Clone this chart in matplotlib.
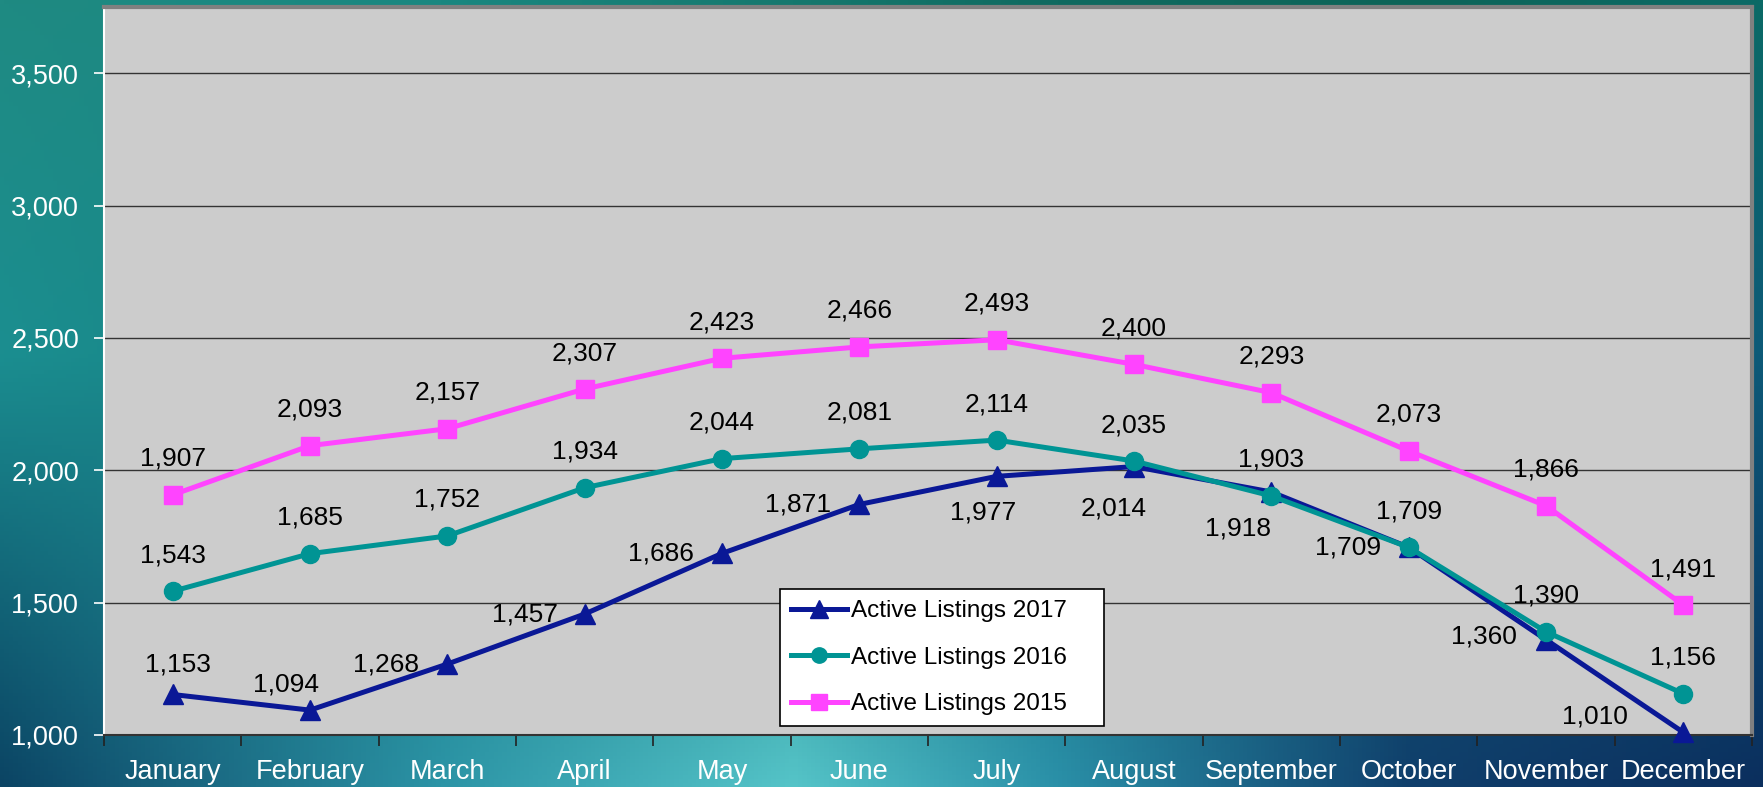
import numpy as np
import matplotlib
matplotlib.use("Agg")
import matplotlib.pyplot as plt
from matplotlib.colors import to_rgb
from matplotlib.ticker import FuncFormatter, FixedLocator

plt.rcParams['font.family'] = ['Liberation Sans', 'DejaVu Sans']

months = ["January", "February", "March", "April", "May", "June", "July",
          "August", "September", "October", "November", "December"]
listings_2017 = [1153, 1094, 1268, 1457, 1686, 1871, 1977, 2014, 1918, 1709, 1360, 1010]
listings_2016 = [1543, 1685, 1752, 1934, 2044, 2081, 2114, 2035, 1903, 1709, 1390, 1156]
listings_2015 = [1907, 2093, 2157, 2307, 2423, 2466, 2493, 2400, 2293, 2073, 1866, 1491]

# label offsets in pixels (dx, dy with y pointing down like the picture)
off_2017 = [(5, -30), (-24, -26), (-61, 0), (-60, 0), (-61, 0), (-61, 0),
            (-14, 36), (-20, 42), (-33, 37), (-61, 0), (-62, -3), (-88, -16)]
off_above = [(0, -36)] * 12

fig = plt.figure(figsize=(17.63, 7.87), dpi=100)

# background gradient behind the chart
bg = fig.add_axes([0, 0, 1, 1])
bg.axis("off")
xs = [0, 0.25, 0.45, 0.6, 0.8, 1.0]
rows = {
    0.0: ["#1f8a82", "#1a8780", "#15786e", "#106a60", "#0d6458", "#0b6a66"],
    0.45: ["#1b8e90", "#168080", "#127072", "#106470", "#0e5c6c", "#0e5a78"],
    1.0: ["#0b4464", "#2c94a6", "#55c4c8", "#2a90a8", "#103f6c", "#0b2f5e"],
}
W, H = 400, 200
gx = np.linspace(0, 1, W)
row_imgs = []
row_keys = sorted(rows)
for k in row_keys:
    cols = np.array([to_rgb(c) for c in rows[k]])
    row_imgs.append(np.stack([np.interp(gx, xs, cols[:, i]) for i in range(3)], axis=-1))
row_imgs = np.array(row_imgs)
gy = np.linspace(0, 1, H)
img = np.zeros((H, W, 3))
for i in range(3):
    for j in range(W):
        img[:, j, i] = np.interp(gy, row_keys, row_imgs[:, j, i])
bg.imshow(img, aspect="auto", extent=[0, 1, 0, 1], origin="upper")
bg.set_xlim(0, 1)
bg.set_ylim(0, 1)

ax = fig.add_axes([104 / 1763, 1 - 735 / 787, 1648 / 1763, 728 / 787])
ax.set_facecolor("#cccccc")

x = np.arange(len(months))
series = [
    (listings_2017, "Active Listings 2017", "#0a1896", "^", 15, off_2017),
    (listings_2016, "Active Listings 2016", "#009494", "o", 13, off_above),
    (listings_2015, "Active Listings 2015", "#ff44ff", "s", 13, off_above),
]
for vals, lab, col, mk, ms, offs in series:
    ax.plot(x, vals, color=col, lw=3.6, marker=mk, markersize=ms, label=lab, zorder=3, clip_on=False)
    for xi, v, (dx, dy) in zip(x, vals, offs):
        ax.annotate(f"{v:,}", (xi, v), xytext=(dx, -dy), textcoords="offset pixels",
                    ha="center", va="center", fontsize=19, color="black", zorder=4)

ax.set_xlim(-0.5, 11.5)
ax.set_ylim(1000, 3750)
ax.set_yticks(np.arange(1000, 3501, 500))
ax.yaxis.set_major_formatter(FuncFormatter(lambda v, _: f"{int(v):,}"))
ax.grid(axis="y", color="#333333", lw=1.0, zorder=1)
ax.set_axisbelow(True)

ax.set_xticks(x)
ax.set_xticklabels(months)
ax.xaxis.set_minor_locator(FixedLocator(np.arange(-0.5, 12, 1)))
ax.tick_params(axis="x", which="major", length=0, pad=17, labelsize=19.5, labelcolor="white")
ax.tick_params(axis="x", which="minor", length=8, width=1.2, color="#222222", direction="out")
ax.tick_params(axis="y", length=7, width=1.2, color="white", pad=11, labelsize=19.5, labelcolor="white")

ax.spines["left"].set_color("white")
ax.spines["left"].set_linewidth(1.5)
ax.spines["bottom"].set_color("#333333")
ax.spines["bottom"].set_linewidth(1.5)
ax.spines["top"].set_color("#808080")
ax.spines["top"].set_linewidth(3)
ax.spines["right"].set_color("#808080")
ax.spines["right"].set_linewidth(3)

leg = ax.legend(loc="lower left", bbox_to_anchor=(0.410, 0.0124, 0.197, 0.187), mode="expand",
                borderaxespad=0, fontsize=17.5, frameon=True, fancybox=False, framealpha=1,
                edgecolor="black", handlelength=2.3, handletextpad=0.18,
                labelspacing=1.0, borderpad=0.45, markerscale=0.85)
leg.get_frame().set_linewidth(1.2)
leg.set_zorder(5)

fig.savefig("out.png", dpi=100)
